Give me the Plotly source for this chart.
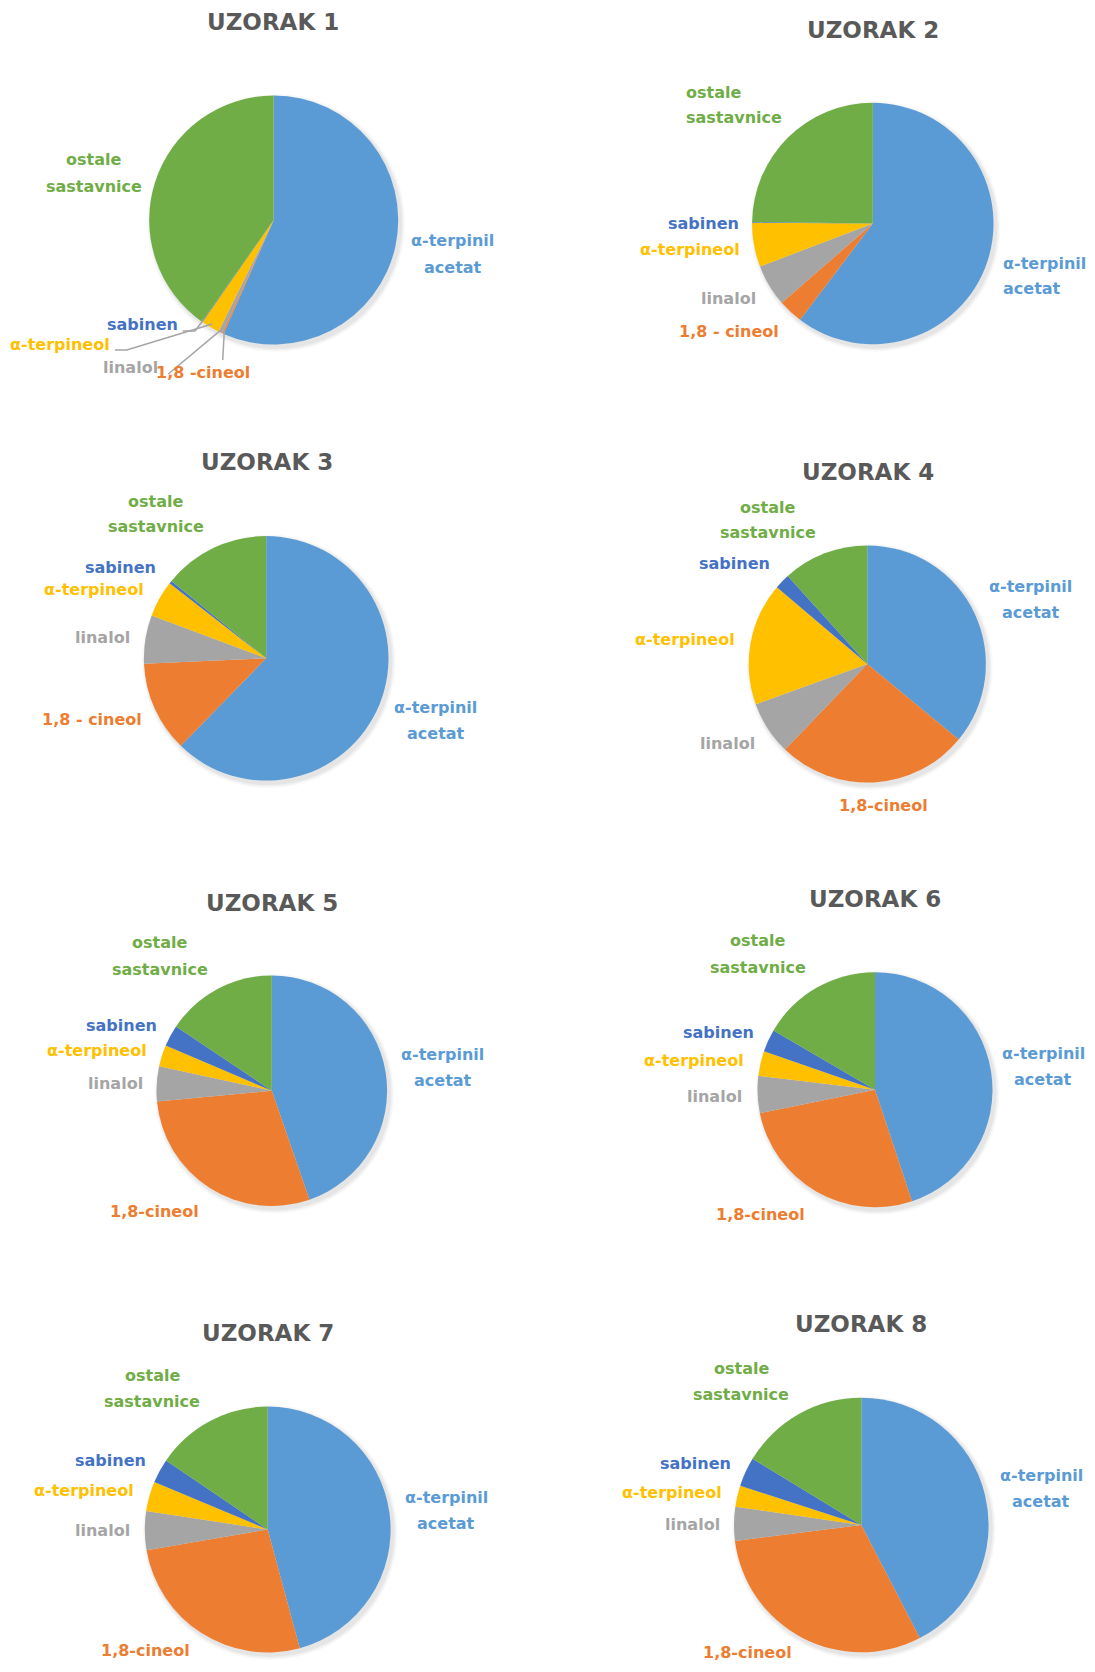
import math
import plotly.graph_objects as go

# ---------------- DATA ----------------
categories = ["α-terpinil acetat", "1,8-cineol", "linalol", "α-terpineol", "sabinen", "ostale sastavnice"]
sample_titles = ["UZORAK 1", "UZORAK 2", "UZORAK 3", "UZORAK 4",
                 "UZORAK 5", "UZORAK 6", "UZORAK 7", "UZORAK 8"]

uzorak1 = [56.6, 0.2, 0.5, 2.4, 0.1, 40.2]
uzorak2 = [60.3, 3.3, 5.6, 5.9, 0.1, 24.8]
uzorak3 = [62.3, 12.0, 6.4, 4.8, 0.4, 14.1]
uzorak4 = [36.0, 26.2, 7.3, 16.7, 2.1, 11.7]
uzorak5 = [44.7, 28.8, 4.9, 3.0, 3.0, 15.6]
uzorak6 = [44.9, 26.9, 5.1, 3.4, 3.1, 16.6]
uzorak7 = [45.8, 26.5, 5.1, 3.9, 3.2, 15.5]
uzorak8 = [42.4, 30.6, 4.3, 2.7, 3.7, 16.3]
samples = [uzorak1, uzorak2, uzorak3, uzorak4, uzorak5, uzorak6, uzorak7, uzorak8]

# label texts as printed on each chart (two-line labels split into lines)
label_acetat = ["α-terpinil", "acetat"]
label_ostale = ["ostale", "sastavnice"]
cineol_texts = ["1,8 -cineol", "1,8 - cineol", "1,8 - cineol", "1,8-cineol",
                "1,8-cineol", "1,8-cineol", "1,8-cineol", "1,8-cineol"]

# ---------------- STYLE / LAYOUT ----------------
PAGE_W, PAGE_H = 1095, 1672
OFF = 8                      # default body margin of the html page
W, H = PAGE_W - 2 * OFF, PAGE_H - 2 * OFF
colors = ["#5B9BD5", "#ED7D31", "#A5A5A5", "#FFC000", "#4472C4", "#70AD47"]
FONT = "DejaVu Sans"
TITLE_COLOR = "#595959"
LINE_GAP = 26

# pie centre / radius in page pixels
pie_geom = [
    (273.7, 220.0, 124.5),
    (872.8, 223.5, 120.7),
    (266.2, 658.3, 122.3),
    (867.3, 664.0, 118.6),
    (271.8, 1090.7, 115.3),
    (875.0, 1089.7, 117.5),
    (267.7, 1529.5, 122.9),
    (861.3, 1525.0, 127.3),
]
title_pos = [(273.2, 22), (873.2, 30), (266.5, 462), (868, 472),
             (272.1, 903), (874.9, 899), (267.6, 1333), (861.3, 1324)]

# label positions per pie: category index -> (x, y of first line, xanchor)
label_pos = [
    {0: (452.8, 241, "center"), 1: (202.7, 373, "center"), 2: (130, 368, "center"),
     3: (60.2, 344, "center"), 4: (142, 325, "center"), 5: (93.5, 160, "center")},
    {0: (1001.0, 263, "left"), 1: (728.9, 332, "center"), 2: (728.2, 298, "center"),
     3: (689.6, 250, "center"), 4: (703, 223, "center"), 5: (684.1, 92, "left")},
    {0: (435.7, 707, "center"), 1: (91.6, 719, "center"), 2: (102.9, 637, "center"),
     3: (93.8, 589, "center"), 4: (120.9, 567, "center"), 5: (155.9, 501, "center")},
    {0: (1030.7, 586, "center"), 1: (883.1, 806, "center"), 2: (727, 743, "center"),
     3: (685.3, 639, "center"), 4: (734.5, 563, "center"), 5: (767.5, 507, "center")},
    {0: (442.7, 1054, "center"), 1: (154.7, 1211, "center"), 2: (115.1, 1083, "center"),
     3: (96.8, 1050, "center"), 4: (121.6, 1026, "center"), 5: (159.9, 943, "center")},
    {0: (1043.0, 1053, "center"), 1: (760.7, 1214, "center"), 2: (714.8, 1096, "center"),
     3: (694, 1060, "center"), 4: (718.3, 1032, "center"), 5: (757.7, 941, "center")},
    {0: (446.2, 1497, "center"), 1: (145.3, 1650, "center"), 2: (102.6, 1530, "center"),
     3: (84.1, 1490, "center"), 4: (110.4, 1460, "center"), 5: (152.1, 1375, "center")},
    {0: (1041, 1475, "center"), 1: (747.1, 1652, "center"), 2: (692.1, 1524, "center"),
     3: (671.7, 1492, "center"), 4: (695.8, 1463, "center"), 5: (741, 1368, "center")},
]

# leader lines (pie 1 only): category index -> points on the text side
leader_pts = {0: {4: [(182.7, 331), (195, 331)],
                  3: [(115, 350), (126.7, 350)],
                  2: [(168.3, 374)],
                  1: [(222.7, 360)]}}


def px(x):
    return (x - OFF) / W


def py(y):
    return 1 - (y - OFF) / H


fig = go.Figure()
annotations = []
shapes = []

for i, vals in enumerate(samples):
    cx, cy, r = pie_geom[i]
    # soft shadow
    for dr, op in [(4.5, 0.025), (3.0, 0.035), (1.5, 0.045)]:
        rr = r + dr
        ox, oy = cx + 2.5, cy + 3
        fig.add_trace(go.Pie(
            values=[1], labels=["s"], sort=False, textinfo="none", hoverinfo="skip",
            marker=dict(colors=[f"rgba(0,0,0,{op})"], line=dict(width=0)),
            domain=dict(x=[px(ox - rr), px(ox + rr)], y=[py(oy + rr), py(oy - rr)]),
            showlegend=False,
        ))
    fig.add_trace(go.Pie(
        values=vals, labels=categories, sort=False, direction="clockwise", rotation=0,
        textinfo="none", marker=dict(colors=colors, line=dict(width=0)),
        domain=dict(x=[px(cx - r), px(cx + r)], y=[py(cy + r), py(cy - r)]),
        showlegend=False, name=sample_titles[i],
    ))
    # title
    tx, ty = title_pos[i]
    annotations.append(dict(x=px(tx), y=py(ty), xref="paper", yref="paper",
                            text=sample_titles[i], showarrow=False,
                            xanchor="center", yanchor="middle",
                            font=dict(family=FONT, size=23, color=TITLE_COLOR, weight="bold")))
    # category labels
    for c in range(len(categories)):
        lx, ly, anchor = label_pos[i][c]
        if c == 0:
            lines = label_acetat
        elif c == 5:
            lines = label_ostale
        elif c == 1:
            lines = [cineol_texts[i]]
        else:
            lines = [categories[c]]
        for j, t in enumerate(lines):
            annotations.append(dict(x=px(lx), y=py(ly + j * LINE_GAP), xref="paper", yref="paper",
                                    text=t, showarrow=False, xanchor=anchor, yanchor="middle",
                                    font=dict(family=FONT, size=16, color=colors[c], weight="bold")))
    # leader lines: end point at slice mid-angle on the rim
    if i in leader_pts:
        total = sum(vals)
        cum = [sum(vals[:k]) for k in range(len(vals))]
        for c, pts in leader_pts[i].items():
            ang = math.radians((cum[c] + vals[c] / 2) / total * 360)
            ex = cx + 0.97 * r * math.sin(ang)
            ey = cy - 0.97 * r * math.cos(ang)
            all_pts = pts + [(ex, ey)]
            path = "M " + " L ".join(f"{px(x):.5f},{py(y):.5f}" for x, y in all_pts)
            shapes.append(dict(type="path", path=path, xref="paper", yref="paper",
                               line=dict(color="#A5A5A5", width=1.5), layer="above"))

fig.update_layout(
    width=W, height=H,
    margin=dict(l=0, r=0, t=0, b=0),
    paper_bgcolor="white", plot_bgcolor="white",
    annotations=annotations, shapes=shapes,
    showlegend=False,
)

fig.write_html("out.html")
